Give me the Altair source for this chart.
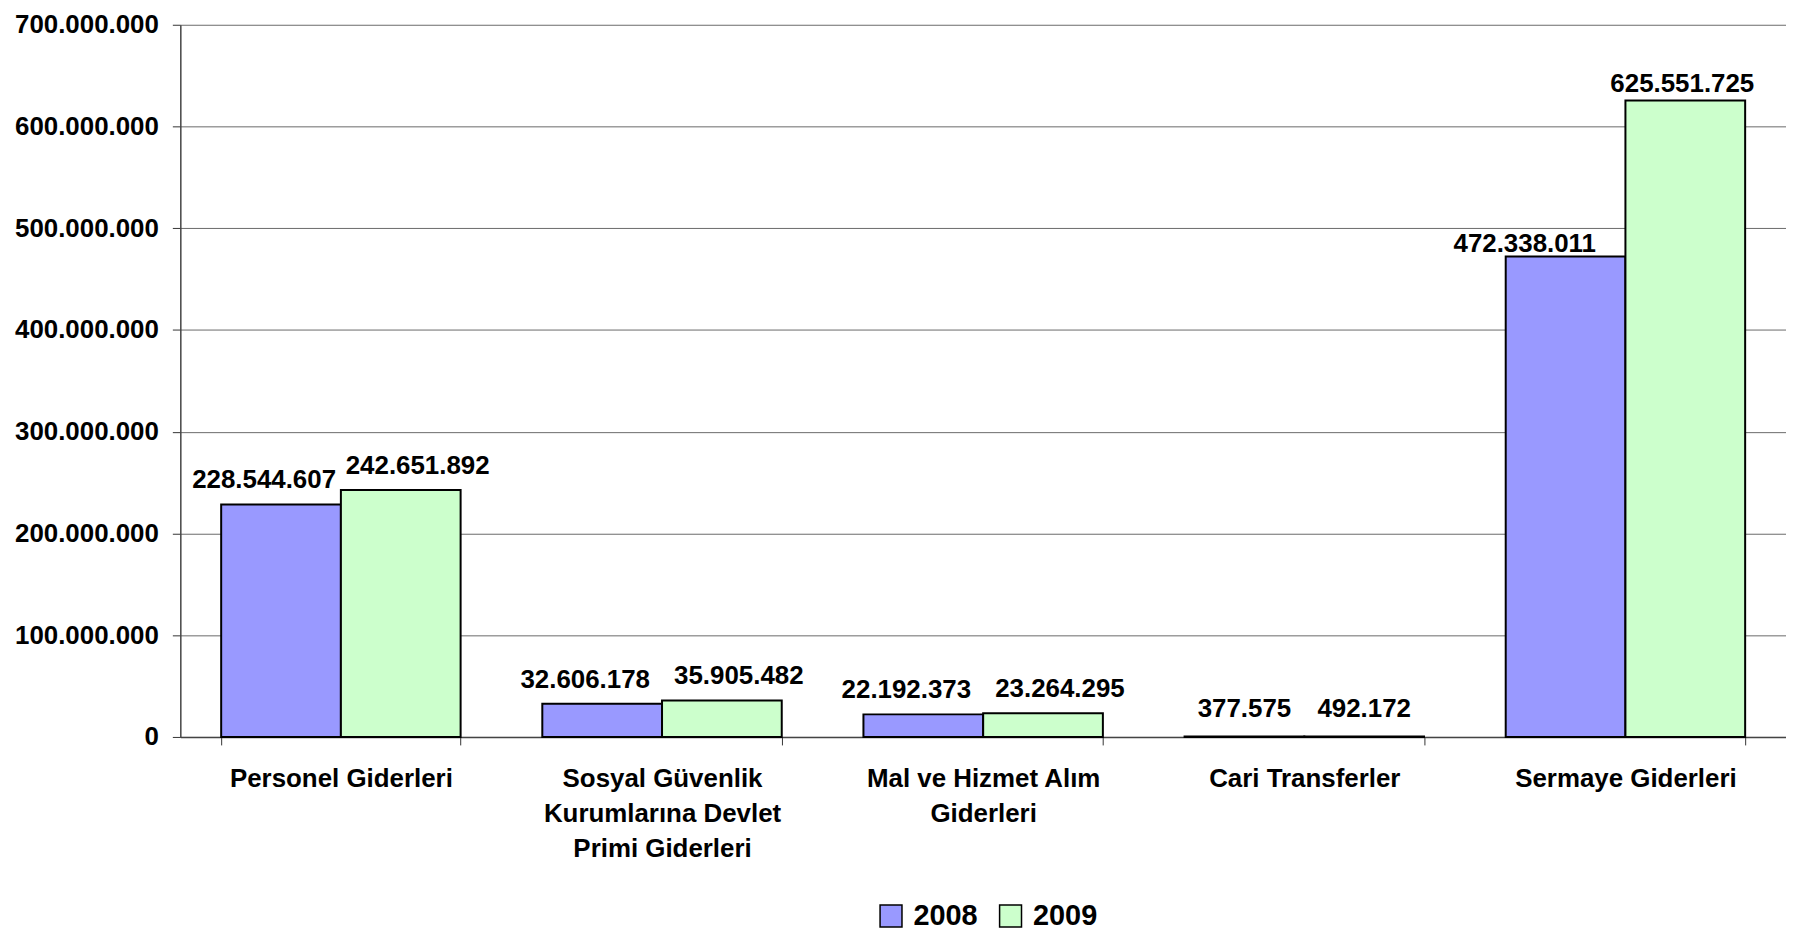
import altair as alt
import pandas as pd

categories = [
    "Personel Giderleri",
    "Sosyal Güvenlik Kurumlarına Devlet Primi Giderleri",
    "Mal ve Hizmet Alım Giderleri",
    "Cari Transferler",
    "Sermaye Giderleri",
]
category_lines = [
    ["Personel Giderleri"],
    ["Sosyal Güvenlik", "Kurumlarına Devlet", "Primi Giderleri"],
    ["Mal ve Hizmet Alım", "Giderleri"],
    ["Cari Transferler"],
    ["Sermaye Giderleri"],
]
years = ["2008", "2009"]
values_2008 = [228544607, 32606178, 22192373, 377575, 472338011]
values_2009 = [242651892, 35905482, 23264295, 492172, 625551725]
y_ticks = [0, 100000000, 200000000, 300000000, 400000000, 500000000, 600000000, 700000000]
colors = ["#9999FF", "#CCFFCC"]

rows = []
for c, v in zip(categories, values_2008):
    rows.append({"cat": c, "year": "2008", "value": v})
for c, v in zip(categories, values_2009):
    rows.append({"cat": c, "year": "2009", "value": v})
df = pd.DataFrame(rows)

FONT = "Liberation Sans"
fmt_expr = "replace(replace(format(datum.value, ','), ',', '.'), ',', '.')"

# multi-line category labels
label_expr = "datum.label"
for c, lines in reversed(list(zip(categories, category_lines))):
    arr = "[" + ", ".join("'" + l + "'" for l in lines) + "]"
    label_expr = f"datum.value == '{c}' ? {arr} : ({label_expr})"

W, H = 1612, 715

x_enc = alt.X(
    "cat:N",
    sort=categories,
    scale=alt.Scale(paddingInner=0.2544, paddingOuter=0.1272),
    axis=alt.Axis(
        title=None,
        labelAngle=0,
        labelExpr=label_expr,
        labelFont=FONT,
        labelFontSize=26,
        labelFontWeight="bold",
        labelColor="black",
        labelLineHeight=35,
        labelPadding=21,
        labelBaseline="top",
        labelLimit=400,
        tickBand="extent",
        tickSize=8,
        tickColor="#333333",
        domainColor="#444444",
        domainWidth=1.5,
        grid=False,
    ),
)
xo_enc = alt.XOffset("year:N", sort=years, scale=alt.Scale(paddingInner=0, paddingOuter=0))

base = alt.Chart(df)

bars = base.mark_bar(stroke="black", strokeWidth=2).encode(
    x=x_enc,
    xOffset=xo_enc,
    y=alt.Y(
        "value:Q",
        scale=alt.Scale(domain=[0, 700000000], nice=False),
        axis=alt.Axis(
            title=None,
            values=y_ticks,
            labelExpr=fmt_expr,
            labelFont=FONT,
            labelFontSize=26,
            labelFontWeight="bold",
            labelColor="black",
            labelPadding=14,
            tickSize=8,
            tickColor="#333333",
            domainColor="#444444",
            domainWidth=1.5,
            grid=True,
            gridColor="#6a6a6a",
            gridWidth=1,
        ),
    ),
    color=alt.Color(
        "year:N",
        sort=years,
        scale=alt.Scale(domain=years, range=colors),
        legend=alt.Legend(
            title=None,
            orient="none",
            legendX=699,
            legendY=880,
            direction="horizontal",
            symbolType="square",
            symbolSize=484,
            symbolStrokeColor="black",
            symbolStrokeWidth=1.5,
            symbolOpacity=1,
            labelFont=FONT,
            labelFontSize=29,
            labelFontWeight="bold",
            labelColor="black",
            labelOffset=8,
            columnPadding=18,
        ),
    ),
)


def label_layer(filter_expr, dx, dy):
    return (
        base.transform_filter(filter_expr)
        .transform_calculate(txt=fmt_expr)
        .mark_text(
            font=FONT,
            fontSize=26,
            fontWeight="bold",
            color="black",
            baseline="alphabetic",
            align="center",
            dx=dx,
            dy=dy,
        )
        .encode(x=x_enc, xOffset=xo_enc, y=alt.Y("value:Q"), text="txt:N")
    )


main = "datum.cat != 'Cari Transferler' && datum.cat != 'Sermaye Giderleri'"
labels = [
    label_layer(f"{main} && datum.year == '2008'", -17, -16),
    label_layer(f"{main} && datum.year == '2009'", 17, -16),
    label_layer("datum.cat == 'Cari Transferler'", 0, -20),
    label_layer("datum.cat == 'Sermaye Giderleri' && datum.year == '2008'", -41, -4),
    label_layer("datum.cat == 'Sermaye Giderleri' && datum.year == '2009'", -3, -9),
]

chart = (
    alt.layer(bars, *labels)
    .properties(
        width=W,
        height=H,
        autosize=alt.AutoSizeParams(type="none"),
        padding={"left": 173, "top": 15, "right": 0, "bottom": 195},
        background="white",
    )
    .configure_view(stroke=None)
)

chart.save("out.html", embed_options={"renderer": "svg", "actions": False})
